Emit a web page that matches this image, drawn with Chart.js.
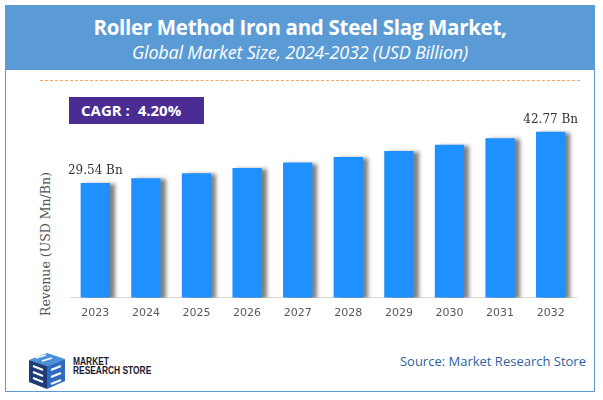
<!DOCTYPE html>
<html>
<head>
<meta charset="utf-8">
<script src="https://cdn.jsdelivr.net/npm/chart.js@4.4.1/dist/chart.umd.min.js"></script>
<style>
  body { margin: 0; width: 603px; height: 400px; background: #fff; position: relative; overflow: hidden; font-family: "Open Sans", sans-serif; }
  .frame { position: absolute; left: 5px; top: 5px; width: 590px; height: 387px; border: 1px solid #5b9bd5; box-sizing: border-box; }
  .header { position: absolute; left: 5px; top: 5px; width: 590px; height: 65px; background: #5b9bd5; color: #fff; text-align: center; }
  .header .t1 { position: absolute; left: 0; right: 0; top: 8px; font-size: 20.5px; font-weight: bold; letter-spacing: -0.3px; }
  .header .t2 { position: absolute; left: 0; right: 0; top: 35px; font-size: 18px; font-style: italic; letter-spacing: -0.2px; }
  .dash { position: absolute; left: 40px; top: 80px; width: 540px; border-top: 1px dashed #f4a460; }
  .cagr { position: absolute; left: 69px; top: 97px; width: 135px; height: 27px; background: #4b2c92; color: #fff; font-weight: bold; font-size: 15px; line-height: 27px; padding-left: 12px; box-sizing: border-box; z-index: 2; }
  .ytitle { position: absolute; left: 45px; top: 244px; transform: translate(-50%, -50%) rotate(-90deg); font-family: "DejaVu Serif", serif; font-size: 12.5px; color: #555; white-space: nowrap; }
  .chartbox { position: absolute; left: 60px; top: 90px; width: 530px; height: 240px; }
  .source { position: absolute; right: 17px; top: 352px; font-size: 13px; color: #2f5f9e; }
  .logo { position: absolute; left: 27px; top: 352px; }
  .logotext { position: absolute; left: 73px; top: 357px; font-family: "Liberation Sans Narrow", "Liberation Sans", sans-serif; font-weight: bold; font-size: 10.5px; line-height: 9px; color: #1a1a2e; transform: scaleX(0.8); transform-origin: left top; }
</style>
</head>
<body>
<div class="frame"></div>
<div class="header">
  <div class="t1">Roller Method Iron and Steel Slag Market,</div>
  <div class="t2">Global Market Size, 2024-2032 (USD Billion)</div>
</div>
<div class="dash"></div>
<div class="cagr">CAGR :&nbsp; 4.20%</div>
<div class="ytitle">Revenue (USD Mn/Bn)</div>
<div class="chartbox"><canvas id="marketChart"></canvas></div>
<svg class="logo" width="42" height="38" viewBox="0 0 42 38">
  <polygon points="2,8 20,1 38,7 20,14" fill="#4a90d9"/>
  <polygon points="2,8 20,14 20,37 2,30" fill="#1f3c78"/>
  <polygon points="20,14 38,7 38,29 20,37" fill="#2d6cc0"/>
  <path d="M6,14 l10,4 M6,20 l10,4 M6,26 l10,4" stroke="#fff" stroke-width="2"/>
  <path d="M24,18 l10,-4 M24,25 l10,-4 M24,32 l10,-4" stroke="#fff" stroke-width="2"/>
  <path d="M9,6 l10,-3 M15,9 l10,-3" stroke="#fff" stroke-width="1.5"/>
</svg>
<div class="logotext">MARKET<br>RESEARCH STORE</div>
<div class="source">Source: Market Research Store</div>

<script>
const years = ['2023', '2024', '2025', '2026', '2027', '2028', '2029', '2030', '2031', '2032'];
const revenue = [29.54, 30.78, 32.07, 33.42, 34.82, 36.28, 37.81, 39.39, 41.05, 42.77];
const labelIndexes = [0, 9];

const barShadow = {
  id: 'barShadow',
  beforeDatasetsDraw(chart) {
    const ctx = chart.ctx;
    ctx.save();
    ctx.shadowColor = 'rgba(0,0,0,0.5)';
    ctx.shadowOffsetX = 5;
    ctx.shadowOffsetY = 1;
    ctx.shadowBlur = 4;
  },
  afterDatasetsDraw(chart) {
    chart.ctx.restore();
  }
};

const valueLabels = {
  id: 'valueLabels',
  afterDraw(chart) {
    const ctx = chart.ctx;
    const meta = chart.getDatasetMeta(0);
    ctx.save();
    ctx.font = '12px "DejaVu Serif", serif';
    ctx.fillStyle = '#333';
    ctx.textAlign = 'center';
    ctx.textBaseline = 'alphabetic';
    labelIndexes.forEach((i) => {
      const bar = meta.data[i];
      ctx.fillText(revenue[i].toFixed(2) + ' Bn', bar.x, bar.y - 9);
    });
    ctx.restore();
  }
};

new Chart(document.getElementById('marketChart').getContext('2d'), {
  type: 'bar',
  data: {
    labels: years,
    datasets: [{
      data: revenue,
      backgroundColor: '#1E90FF',
      categoryPercentage: 0.58,
      barPercentage: 1.0
    }]
  },
  options: {
    responsive: true,
    maintainAspectRatio: false,
    animation: false,
    layout: { padding: { left: 10, right: 14, top: 0, bottom: 1 } },
    plugins: { legend: { display: false }, tooltip: { enabled: false } },
    scales: {
      x: {
        grid: { display: false, drawTicks: false },
        border: { display: true, color: '#d9d9d9' },
        ticks: { color: '#595959', font: { family: 'DejaVu Sans', size: 11 }, padding: 9 }
      },
      y: { display: false, min: 0, max: 53.5 }
    }
  },
  plugins: [barShadow, valueLabels]
});
</script>
</body>
</html>
